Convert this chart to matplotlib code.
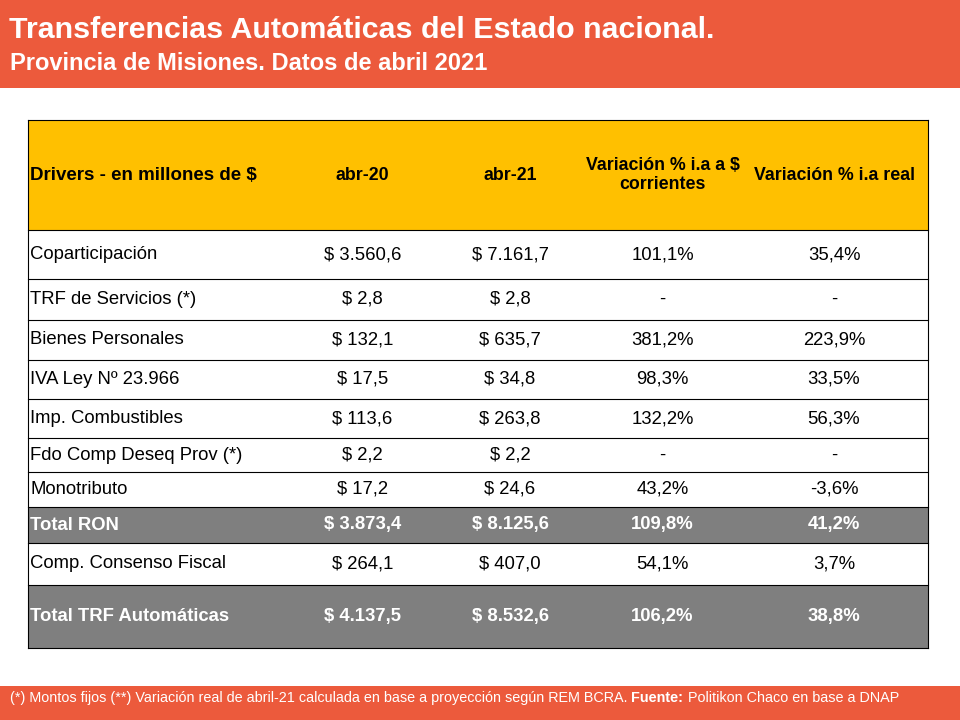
import matplotlib
matplotlib.use("Agg")
import matplotlib.pyplot as plt
from matplotlib.patches import Rectangle

ORANGE = "#EC5A3C"
YELLOW = "#FFC000"
GREY = "#7F7F7F"

title = "Transferencias Automáticas del Estado nacional."
subtitle = "Provincia de Misiones. Datos de abril 2021"
headers = ["Drivers - en millones de $", "abr-20", "abr-21",
           "Variación % i.a a $\ncorrientes", "Variación % i.a real"]
drivers = ["Coparticipación", "TRF de Servicios (*)", "Bienes Personales",
           "IVA Ley Nº 23.966", "Imp. Combustibles", "Fdo Comp Deseq Prov (*)",
           "Monotributo", "Total RON", "Comp. Consenso Fiscal", "Total TRF Automáticas"]
abr20 = ["$ 3.560,6", "$ 2,8", "$ 132,1", "$ 17,5", "$ 113,6", "$ 2,2",
         "$ 17,2", "$ 3.873,4", "$ 264,1", "$ 4.137,5"]
abr21 = ["$ 7.161,7", "$ 2,8", "$ 635,7", "$ 34,8", "$ 263,8", "$ 2,2",
         "$ 24,6", "$ 8.125,6", "$ 407,0", "$ 8.532,6"]
var_corr = ["101,1%", "-", "381,2%", "98,3%", "132,2%", "-", "43,2%",
            "109,8%", "54,1%", "106,2%"]
var_real = ["35,4%", "-", "223,9%", "33,5%", "56,3%", "-", "-3,6%",
            "41,2%", "3,7%", "38,8%"]
total_rows = {"Total RON", "Total TRF Automáticas"}
footnote_a = "(*) Montos fijos (**) Variación real de abril-21 calculada en base a proyección según REM BCRA. "
footnote_b = "Fuente:"
footnote_c = " Politikon Chaco en base a DNAP"

col_edges = [28, 290, 435, 585, 740, 928]
row_edges = [120, 230, 279, 320, 360, 399, 438, 472, 507, 543, 585, 648]

plt.rcParams["font.family"] = ["Liberation Sans", "DejaVu Sans"]
fig = plt.figure(figsize=(9.6, 7.2), dpi=100)
ax = fig.add_axes([0, 0, 1, 1])
ax.set_xlim(0, 960)
ax.set_ylim(720, 0)
ax.axis("off")
H = fig.bbox.height

# header band
ax.add_patch(Rectangle((0, 0), 960, 88, color=ORANGE, lw=0))
ax.text(9, 30, title, color="white", fontsize=21.9, fontweight="bold", va="center")
ax.text(10, 63, subtitle, color="white", fontsize=17, fontweight="bold", va="center")

# footer band with bold "Fuente:"
ax.add_patch(Rectangle((0, 686), 960, 34, color=ORANGE, lw=0))
x = 10
for part, weight in [(footnote_a, "normal"), (footnote_b, "bold"), (footnote_c, "normal")]:
    t = ax.text(x, H - 698, part, color="white", fontsize=10.4, va="center",
                fontweight=weight, transform=None)
    fig.canvas.draw()
    x = t.get_window_extent().x1

# table header
ax.add_patch(Rectangle((col_edges[0], row_edges[0]), col_edges[-1] - col_edges[0],
                       row_edges[1] - row_edges[0], color=YELLOW, lw=0))
ymid = (row_edges[0] + row_edges[1]) / 2
for i, h in enumerate(headers):
    if i == 0:
        ax.text(col_edges[0] + 2, ymid, h, fontsize=13.5, fontweight="bold", va="center")
    else:
        ax.text((col_edges[i] + col_edges[i + 1]) / 2, ymid, h, fontsize=12.8,
                fontweight="bold", va="center", ha="center", linespacing=1.15)

# body
for r, name in enumerate(drivers):
    y0, y1 = row_edges[r + 1], row_edges[r + 2]
    ym = (y0 + y1) / 2
    bold = name in total_rows
    color = "white" if bold else "black"
    if bold:
        ax.add_patch(Rectangle((col_edges[0], y0), col_edges[-1] - col_edges[0],
                               y1 - y0, color=GREY, lw=0))
    vals = [name, abr20[r], abr21[r], var_corr[r], var_real[r]]
    for c, v in enumerate(vals):
        kw = dict(fontsize=13.3, va="center", color=color,
                  fontweight="bold" if bold else "normal")
        if c == 0:
            ax.text(col_edges[0] + 2, ym, v, **kw)
        else:
            ax.text((col_edges[c] + col_edges[c + 1]) / 2, ym, v, ha="center", **kw)

# grid lines
for y in row_edges:
    ax.plot([col_edges[0], col_edges[-1]], [y, y], color="black", lw=0.8)
for xe in (col_edges[0], col_edges[-1]):
    ax.plot([xe, xe], [row_edges[0], row_edges[-1]], color="black", lw=0.8)

fig.savefig("out.png", dpi=100)
